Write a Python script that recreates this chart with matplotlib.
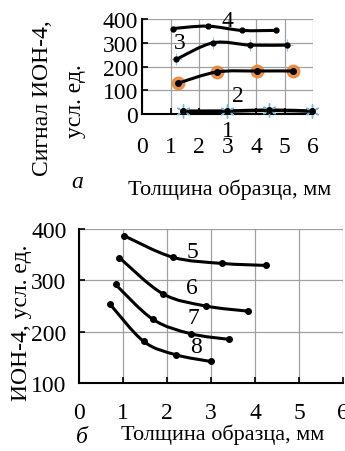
import numpy as np
import matplotlib
matplotlib.use('Agg')
import matplotlib.pyplot as plt
from matplotlib.path import Path
from matplotlib.patches import PathPatch

plt.rcParams['font.family'] = ['Liberation Serif', 'DejaVu Serif']

# panel a data (thickness, mm -> signal)
x1 = [1.45, 2.98, 4.45, 5.96]
y1 = [12, 12, 16, 12]
x_or = [1.27, 2.63, 4.05, 5.3]
y_or = [130, 177, 181, 181]
x3 = [1.2, 2.5, 3.8, 5.1]
y3 = [230, 300, 290, 290]
x4 = [1.1, 2.3, 3.5, 4.7]
y4 = [360, 370, 352, 352]

# panel b data
x5 = [1.02, 2.13, 3.24, 4.26]
y5 = [387, 345, 333, 329]
x6 = [0.92, 1.90, 2.88, 3.84]
y6 = [344, 274, 250, 240]
x7 = [0.83, 1.68, 2.54, 3.41]
y7 = [292, 224, 196, 185]
x8 = [0.70, 1.47, 2.20, 2.99]
y8 = [254, 181, 155, 142]

a_ticks_y = [0, 100, 200, 300, 400]
b_ticks_y = [100, 200, 300, 400]
x_ticks = [0, 1, 2, 3, 4, 5, 6]

FS = 17      # tick labels / axis titles
FS_X = 16    # x titles


# smooth curve through the points (catmull-rom as bezier)
def smooth_path(x, y):
    pts = np.column_stack([x, y]).astype(float)
    n = len(pts)
    verts = [pts[0]]
    codes = [Path.MOVETO]
    for i in range(n - 1):
        p0 = pts[i - 1] if i > 0 else pts[i]
        p1 = pts[i]
        p2 = pts[i + 1]
        p3 = pts[i + 2] if i + 2 < n else pts[i + 1]
        verts += [p1 + (p2 - p0) / 6, p2 - (p3 - p1) / 6, p2]
        codes += [Path.CURVE4] * 3
    return Path(verts, codes)


def curve(ax, x, y, lw=2.2):
    ax.add_patch(PathPatch(smooth_path(x, y), fill=False, lw=lw, color='black', zorder=3))


def style_axes(ax):
    ax.grid(True, color='#a0a0a0', lw=0.9)
    ax.set_axisbelow(True)
    for s in ['top', 'right']:
        ax.spines[s].set_visible(False)
    for s in ['left', 'bottom']:
        ax.spines[s].set_linewidth(1.5)
    ax.tick_params(direction='in', length=4, width=1.2, labelsize=FS)


fig = plt.figure(figsize=(3.45, 4.52), dpi=100)
W, H = 345.0, 452.0

# ---------- panel a ----------
ax1 = fig.add_axes([142 / W, 1 - 115 / H, 171 / W, 95 / H])
ax1.set_xlim(0, 6)
ax1.set_ylim(0, 400)
ax1.set_xticks(x_ticks)
ax1.set_yticks(a_ticks_y)
style_axes(ax1)
ax1.tick_params(axis='x', pad=16)
ax1.tick_params(axis='y', pad=3)

curve(ax1, x1, y1, lw=2.6)
ax1.plot(x1, y1, ls='none', marker=(6, 2, 0), ms=10, mew=1.0, color='#6fb8d8', zorder=4, clip_on=False)
ax1.plot(x1, y1, ls='none', marker='o', ms=4, color='black', zorder=5, clip_on=False)

curve(ax1, x_or, y_or)
ax1.plot(x_or, y_or, ls='none', marker='o', ms=9, color='#e8883a', alpha=0.9, zorder=2)
ax1.plot(x_or, y_or, ls='none', marker='o', ms=4, color='black', zorder=4)

curve(ax1, x3, y3)
ax1.plot(x3, y3, ls='none', marker='+', ms=8, mew=0.8, color='#9cc4e4', zorder=2)
ax1.plot(x3, y3, ls='none', marker='o', ms=3.5, color='black', zorder=4)

curve(ax1, x4, y4)
ax1.plot(x4, y4, ls='none', marker='o', ms=3.5, color='black', zorder=4)

ax1.text(3.0, 392, '4', fontsize=FS, ha='center', va='center')
ax1.text(1.33, 303, '3', fontsize=FS, ha='center', va='center')
ax1.text(3.37, 76, '2', fontsize=FS, ha='center', va='center')
ax1.text(3.02, -68, '1', fontsize=FS, ha='center', va='center', clip_on=False)

fig.text(43 / W, 1 - 98 / H, 'Сигнал ИОН-4,', rotation=90, fontsize=FS, ha='center', va='center')
fig.text(75 / W, 1 - 101 / H, 'усл. ед.', rotation=90, fontsize=FS, ha='center', va='center')
fig.text(77 / W, 1 - 182 / H, 'а', fontsize=FS, style='italic', ha='center', va='center')
fig.text(230 / W, 1 - 190 / H, 'Толщина образца, мм', fontsize=FS_X, ha='center', va='center')

# ---------- panel b ----------
ax2 = fig.add_axes([79 / W, 1 - 384 / H, 264 / W, 154 / H])
ax2.set_xlim(0, 6)
ax2.set_ylim(100, 400)
ax2.set_xticks(x_ticks)
ax2.set_yticks(b_ticks_y)
style_axes(ax2)
ax2.tick_params(axis='x', pad=14)
ax2.tick_params(axis='y', pad=9)

for xs, ys in [(x5, y5), (x6, y6), (x7, y7), (x8, y8)]:
    curve(ax2, xs, ys)
    ax2.plot(xs, ys, ls='none', marker='o', ms=4, color='black', zorder=4)

ax2.text(2.57, 357, '5', fontsize=FS, ha='center', va='center')
ax2.text(2.57, 287, '6', fontsize=FS, ha='center', va='center')
ax2.text(2.60, 228, '7', fontsize=FS, ha='center', va='center')
ax2.text(2.66, 172, '8', fontsize=FS, ha='center', va='center')

fig.text(22 / W, 1 - 323 / H, 'ИОН-4, усл. ед.', rotation=90, fontsize=FS, ha='center', va='center')
fig.text(82 / W, 1 - 438 / H, 'б', fontsize=FS, style='italic', ha='center', va='center')
fig.text(223 / W, 1 - 435 / H, 'Толщина образца, мм', fontsize=FS_X, ha='center', va='center')

fig.savefig('out.png', dpi=100)
